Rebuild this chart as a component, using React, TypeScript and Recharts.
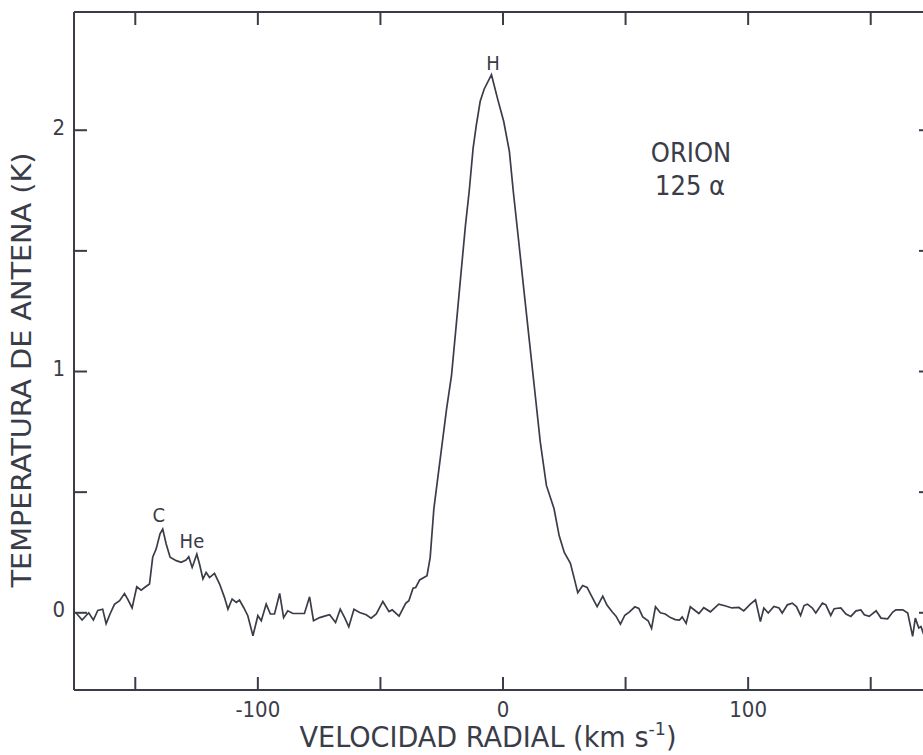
import { LineChart, Line, XAxis, YAxis, ReferenceDot } from 'recharts';

// radial velocity (km/s) and antenna temperature (K)
const velocity = [
  -174.2, -171.7, -169.0, -167.1, -165.3, -163.3, -161.9, -160.3, -158.5, -156.4,
  -154.4, -153.1, -151.3, -149.4, -147.6, -145.8, -144.2, -142.9, -141.5, -139.9,
  -138.8, -137.4, -135.8, -133.3, -131.3, -129.3, -128.2, -126.8, -124.9, -123.8,
  -122.4, -121.1, -119.7, -117.7, -115.6, -113.6, -112.2, -110.5, -108.8, -107.5,
  -105.8, -104.1, -102.0, -100.0, -98.6, -96.6, -94.9, -93.2, -91.1, -89.5,
  -87.8, -85.7, -83.0, -81.0, -78.9, -77.3, -74.8, -72.1, -70.7, -68.3,
  -66.4, -64.6, -62.9, -60.8, -58.5, -55.8, -53.8, -51.7, -49.0, -46.5,
  -45.2, -42.4, -39.7, -38.4, -36.7, -35.6, -34.0, -31.0, -29.7, -28.2,
  -25.6, -23.0, -21.0, -19.1, -17.2, -15.3, -13.8, -12.2, -10.9, -9.3,
  -7.7, -4.7, -2.2, 0.3, 2.6, 4.2, 6.4, 8.6, 10.8, 13.0,
  15.2, 17.7, 20.8, 22.9, 25.0, 27.5, 28.9, 30.5, 32.5, 34.3,
  36.3, 38.4, 40.7, 42.4, 44.5, 46.1, 47.9, 49.7, 51.6, 53.8,
  55.4, 57.0, 59.2, 60.6, 62.2, 64.2, 66.2, 68.3, 70.3, 72.0,
  73.1, 74.7, 76.4, 79.9, 81.9, 84.6, 88.0, 90.5, 93.4, 96.2,
  98.2, 100.9, 103.0, 105.0, 106.4, 108.2, 110.5, 112.6, 113.9, 116.0,
  118.0, 119.7, 121.4, 122.8, 124.2, 126.2, 127.6, 130.3, 131.7, 133.7,
  135.1, 137.8, 139.9, 141.9, 144.0, 146.0, 147.4, 149.4, 152.2, 154.2,
  156.9, 159.0, 160.3, 163.1, 165.1, 167.1, 168.2, 169.6, 170.5, 171.9,
];

const antennaTemp = [
  0.0, -0.03, 0.0, -0.03, 0.01, 0.015, -0.045, -0.005, 0.035, 0.05,
  0.08, 0.057, 0.02, 0.108, 0.094, 0.108, 0.119, 0.23, 0.264, 0.327,
  0.347, 0.285, 0.23, 0.216, 0.209, 0.219, 0.232, 0.188, 0.243, 0.202,
  0.14, 0.167, 0.146, 0.163, 0.119, 0.063, 0.015, 0.057, 0.043, 0.053,
  0.022, -0.012, -0.095, -0.012, -0.033, 0.036, -0.005, -0.005, 0.08, -0.02,
  0.008, -0.003, -0.003, -0.003, 0.066, -0.033, -0.02, -0.012, -0.008, -0.04,
  0.015, -0.02, -0.058, 0.015, 0.001, -0.008, -0.022, -0.005, 0.047, 0.005,
  0.012, -0.014, 0.039, 0.05, 0.102, 0.105, 0.136, 0.154, 0.23, 0.432,
  0.639, 0.846, 0.984, 1.19, 1.4, 1.607, 1.746, 1.925, 2.02, 2.12,
  2.17, 2.23, 2.13, 2.036, 1.912, 1.746, 1.54, 1.33, 1.123, 0.916,
  0.708, 0.528, 0.432, 0.32, 0.25, 0.205, 0.149, 0.083, 0.113, 0.105,
  0.066, 0.025, 0.069, 0.032, 0.004, -0.014, -0.047, -0.01, 0.004, 0.025,
  0.018, -0.017, -0.033, -0.065, 0.025, 0.0, -0.005, -0.02, -0.028, -0.03,
  -0.017, -0.044, 0.025, -0.003, 0.021, 0.004, 0.036, 0.029, 0.02, 0.022,
  0.008, 0.036, 0.054, -0.036, 0.02, -0.001, 0.026, 0.02, -0.001, 0.033,
  0.04, 0.026, -0.011, 0.03, 0.036, 0.02, -0.001, 0.04, 0.033, -0.011,
  0.017, 0.02, -0.005, -0.015, 0.008, 0.012, -0.008, -0.015, 0.008, -0.022,
  -0.025, 0.003, 0.012, 0.012, -0.001, -0.098, -0.022, -0.063, -0.057, -0.098,
];

const xTicks = [-150, -100, -50, 0, 50, 100, 150];
const xTickLabels = ['', '-100', '', '0', '', '100', ''];
const yTicks = [0, 0.5, 1, 1.5, 2];
const yTickLabels = ['0', '', '1', '', '2'];

// line identifications and the source name
const lineNames = ['H', 'C', 'He'];
const lineNameV = [-4.1, -140.4, -126.9];
const lineNameT = [2.278, 0.405, 0.3];
const sourceText = ['ORION', '125 α'];
const sourceV = [76.7, 76.3];
const sourceT = [1.91, 1.773];

const spectrum = velocity.map((v, i) => ({ v, t: antennaTemp[i] }));

const ink = '#3a3d48';
const font = "'DejaVu Sans Condensed', 'Liberation Sans Narrow', 'DejaVu Sans', sans-serif";
const TICK = 13;

const BottomTick = ({ x, y, payload }: any) => {
  const label = xTickLabels[xTicks.indexOf(payload.value)];
  return (
    <g>
      <line x1={x} y1={y} x2={x} y2={y - TICK} stroke={ink} strokeWidth={2} />
      {label && (
        <text x={x} y={y + 19} textAnchor="middle" dominantBaseline="central" fontSize={22} fill={ink} fontFamily={font}>
          {label}
        </text>
      )}
    </g>
  );
};

const TopTick = ({ x, y }: any) => (
  <line x1={x} y1={y} x2={x} y2={y + TICK} stroke={ink} strokeWidth={2} />
);

const LeftTick = ({ x, y, payload }: any) => {
  const label = yTickLabels[yTicks.indexOf(payload.value)];
  return (
    <g>
      <line x1={x} y1={y} x2={x + TICK} y2={y} stroke={ink} strokeWidth={2} />
      {label && (
        <text x={x - 9} y={y - 3} textAnchor="end" dominantBaseline="central" fontSize={22} fill={ink} fontFamily={font}>
          {label}
        </text>
      )}
    </g>
  );
};

const RightTick = ({ x, y }: any) => (
  <line x1={x} y1={y} x2={x - TICK} y2={y} stroke={ink} strokeWidth={2} />
);

const XTitle = ({ viewBox }: any) => (
  <text
    x={viewBox.x + 414}
    y={viewBox.y + 47}
    textAnchor="middle"
    dominantBaseline="central"
    fontSize={28}
    fill={ink}
    fontFamily={font}
    textLength={377}
    lengthAdjust="spacingAndGlyphs"
  >
    VELOCIDAD RADIAL (km s<tspan dy={-9} fontSize={18}>-1</tspan><tspan dy={9}>)</tspan>
  </text>
);

const YTitle = ({ viewBox }: any) => {
  const cx = viewBox.x + 7;
  const cy = viewBox.y + viewBox.height / 2 + 19;
  return (
    <text
      x={cx}
      y={cy}
      transform={`rotate(-90 ${cx} ${cy})`}
      textAnchor="middle"
      dominantBaseline="central"
      fontSize={27}
      fill={ink}
      fontFamily={font}
      textLength={435}
      lengthAdjust="spacingAndGlyphs"
    >
      TEMPERATURA DE ANTENA (K)
    </text>
  );
};

export default function App() {
  return (
    <div style={{ position: 'absolute', left: 0, top: 0, width: 923, height: 755, overflow: 'hidden', background: '#fff' }}>
      <LineChart width={960} height={755} data={spectrum} margin={{ top: 11, right: 18, bottom: 25, left: 14 }}>
        <XAxis
          xAxisId="bottom"
          dataKey="v"
          type="number"
          domain={[-175, 175]}
          allowDataOverflow
          ticks={xTicks}
          interval={0}
          tickSize={0}
          tickMargin={0}
          tick={<BottomTick />}
          tickLine={false}
          axisLine={{ stroke: ink, strokeWidth: 2 }}
          height={40}
          label={XTitle}
        />
        <XAxis
          xAxisId="top"
          orientation="top"
          dataKey="v"
          type="number"
          domain={[-175, 175]}
          allowDataOverflow
          ticks={xTicks}
          interval={0}
          tickSize={0}
          tickMargin={0}
          tick={<TopTick />}
          tickLine={false}
          axisLine={{ stroke: ink, strokeWidth: 2 }}
          height={1}
        />
        <YAxis
          yAxisId="left"
          dataKey="t"
          type="number"
          domain={[-0.32, 2.49]}
          allowDataOverflow
          ticks={yTicks}
          interval={0}
          tickSize={0}
          tickMargin={0}
          tick={<LeftTick />}
          tickLine={false}
          axisLine={{ stroke: ink, strokeWidth: 2 }}
          width={60}
          label={YTitle}
        />
        <YAxis
          yAxisId="right"
          orientation="right"
          dataKey="t"
          type="number"
          domain={[-0.32, 2.49]}
          allowDataOverflow
          ticks={yTicks}
          interval={0}
          tickSize={0}
          tickMargin={0}
          tick={<RightTick />}
          tickLine={false}
          axisLine={{ stroke: ink, strokeWidth: 2 }}
          width={10}
        />
        <Line
          xAxisId="bottom"
          yAxisId="left"
          dataKey="t"
          type="linear"
          stroke={ink}
          strokeWidth={1.7}
          dot={false}
          isAnimationActive={false}
        />
        {lineNames.map((name, i) => (
          <ReferenceDot
            key={name}
            xAxisId="bottom"
            yAxisId="left"
            x={lineNameV[i]}
            y={lineNameT[i]}
            r={0}
            fill="none"
            stroke="none"
            label={{ value: name, position: 'center', fontSize: 20, fill: ink, fontFamily: font }}
          />
        ))}
        {sourceText.map((txt, i) => (
          <ReferenceDot
            key={txt}
            xAxisId="bottom"
            yAxisId="left"
            x={sourceV[i]}
            y={sourceT[i]}
            r={0}
            fill="none"
            stroke="none"
            label={{ value: txt, position: 'center', fontSize: 27, fill: ink, fontFamily: font }}
          />
        ))}
      </LineChart>
    </div>
  );
}
